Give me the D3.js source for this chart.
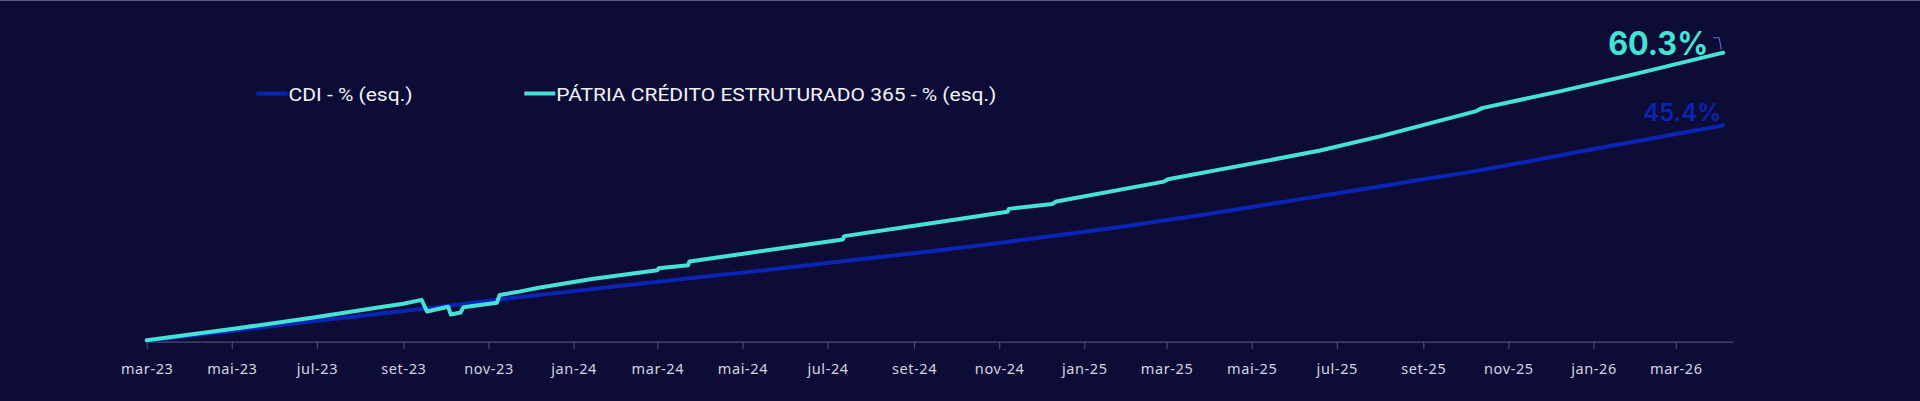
<!DOCTYPE html>
<html>
<head>
<meta charset="utf-8">
<script src="https://cdn.jsdelivr.net/npm/d3@7"></script>
<style>
  body { margin: 0; background: #0d0c36; }
  svg { display: block; }
</style>
</head>
<body>
<div id="chart"></div>
<script>
const layout = {
    width: 1920,
    height: 401,
    xStart: 146.7,
    xEnd: 1733,
    axisY: 341.7,
    yZero: 346.1,
    yTop: 44.4
};

// CDI acumulado (%)
const cdiDates = ["2023-03-01", "2023-04-01", "2023-05-01", "2023-06-01", "2023-07-01", "2023-08-01",
    "2023-09-01", "2023-10-01", "2023-11-01", "2023-12-01", "2024-01-01", "2024-02-01", "2024-03-01",
    "2024-04-01", "2024-05-01", "2024-06-01", "2024-07-01", "2024-08-01", "2024-09-01", "2024-10-01",
    "2024-11-01", "2024-12-01", "2025-01-01", "2025-02-01", "2025-03-01", "2025-04-01", "2025-05-01",
    "2025-06-01", "2025-07-01", "2025-08-01", "2025-09-01", "2025-10-01", "2025-11-01", "2025-12-01",
    "2026-01-01", "2026-02-01", "2026-03-01", "2026-04-01", "2026-04-04"];
const cdiValues = [1.1, 2.1, 3.1, 4.2, 5.2, 6.2,
    7.2, 8.2, 9.3, 10.3, 11.3, 12.3, 13.2,
    14.2, 15.1, 16.1, 17.1, 18.1, 19.1, 20.1,
    21.2, 22.3, 23.5, 24.7, 25.9, 27.2, 28.6,
    30.0, 31.4, 32.8, 34.3, 35.6, 37.2, 38.8,
    40.5, 42.1, 43.6, 45.2, 45.4];

// Pátria Crédito Estruturado 365 acumulado (%)
const fundDates = ["2023-03-01", "2023-05-01", "2023-07-01", "2023-08-15", "2023-09-01", "2023-09-14",
    "2023-09-18", "2023-10-03", "2023-10-05", "2023-10-12", "2023-10-14", "2023-11-07", "2023-11-09",
    "2023-11-23", "2023-12-07", "2024-01-14", "2024-03-01", "2024-03-02", "2024-03-23", "2024-03-24",
    "2024-07-12", "2024-07-13", "2024-09-12", "2024-11-07", "2024-11-08", "2024-12-09", "2024-12-12",
    "2025-02-27", "2025-03-02", "2025-05-01", "2025-06-19", "2025-08-01", "2025-10-09", "2025-10-13",
    "2025-12-07", "2026-02-01", "2026-04-04"];
const fundValues = [1.2, 3.5, 6.0, 8.0, 8.7, 9.5,
    7.1, 8.1, 6.5, 6.9, 8.0, 8.9, 10.5,
    11.2, 12.0, 13.8, 15.6, 16.0, 16.6, 17.4,
    21.9, 22.6, 25.2, 27.6, 28.2, 29.2, 29.7,
    33.8, 34.3, 37.5, 40.2, 43.1, 48.3, 48.9,
    52.3, 56.0, 60.3];

const monthNames = ["jan", "fev", "mar", "abr", "mai", "jun", "jul", "ago", "set", "out", "nov", "dez"];
const seriesNames = ["CDI - % (esq.)", "PÁTRIA CRÉDITO ESTRUTURADO 365 - % (esq.)"];
const endLabels = ["45.4%", "60.3%"];

const parseDate = d3.timeParse("%Y-%m-%d");
const cdi = cdiDates.map((d, i) => ({ date: parseDate(d), value: cdiValues[i] }));
const fund = fundDates.map((d, i) => ({ date: parseDate(d), value: fundValues[i] }));

let svg = d3.select("#chart").append("svg")
    .attr("width", layout.width)
    .attr("height", layout.height)
    .attr("viewBox", [0, 0, layout.width, layout.height].join(" "));

// thin border on top
svg.append("rect")
    .attr("x", 0).attr("y", 0)
    .attr("width", layout.width).attr("height", 1)
    .attr("fill", "#5a5a7a");

// SCALES
let xScale = d3.scaleTime()
    .domain([parseDate("2023-03-01"), parseDate("2026-04-11")])
    .range([layout.xStart, layout.xEnd]);
let yScale = d3.scaleLinear()
    .domain([0, 62])
    .range([layout.yZero, layout.yTop]);

// x axis
let xAxis = svg.append("g")
    .attr("transform", `translate(0,${layout.axisY})`)
    .call(d3.axisBottom(xScale)
        .ticks(d3.timeMonth.every(2))
        .tickFormat(d => monthNames[d.getMonth()] + "-" + d3.timeFormat("%y")(d))
        .tickSize(7)
        .tickSizeOuter(0)
        .tickPadding(15));
xAxis.selectAll(".domain, line").attr("stroke", "#4c4c6e").attr("stroke-width", 1.2);
xAxis.selectAll("text")
    .attr("fill", "#d4d4e0")
    .attr("font-family", "'Noto Sans', sans-serif")
    .attr("font-size", 14.5)
    .attr("letter-spacing", 0.6);

// lines
let line = d3.line()
    .x(d => xScale(d.date))
    .y(d => yScale(d.value));

svg.append("path")
    .datum(cdi)
    .attr("fill", "none")
    .attr("stroke", "#0a24b6")
    .attr("stroke-width", 4)
    .attr("stroke-linecap", "round")
    .attr("stroke-linejoin", "round")
    .attr("d", line);

svg.append("path")
    .datum(fund)
    .attr("fill", "none")
    .attr("stroke", "#45e3d6")
    .attr("stroke-width", 4)
    .attr("stroke-linecap", "round")
    .attr("stroke-linejoin", "round")
    .attr("d", line);

// end labels
let lastCdi = cdi[cdi.length - 1];
let lastFund = fund[fund.length - 1];

svg.append("text")
    .attr("x", xScale(lastCdi.date) - 2)
    .attr("y", yScale(lastCdi.value) - 4.5)
    .attr("text-anchor", "end")
    .attr("font-family", "Inter, sans-serif")
    .attr("font-weight", 600)
    .attr("font-size", 24)
    .attr("fill", "#0a24b6")
    .attr("textLength", 78)
    .attr("lengthAdjust", "spacingAndGlyphs")
    .text(endLabels[0]);

svg.append("text")
    .attr("x", xScale(lastFund.date) - 15)
    .attr("y", yScale(lastFund.value) + 2.3)
    .attr("text-anchor", "end")
    .attr("font-family", "Inter, sans-serif")
    .attr("font-weight", 700)
    .attr("font-size", 32)
    .attr("fill", "#45e3d6")
    .attr("textLength", 100)
    .attr("lengthAdjust", "spacingAndGlyphs")
    .text(endLabels[1]);

// little bracket mark next to the fund label
let bx = xScale(lastFund.date), by = yScale(lastFund.value);
svg.append("path")
    .attr("d", `M${bx - 10},${by - 15} H${bx - 4} L${bx - 2},${by - 3}`)
    .attr("fill", "none")
    .attr("stroke", "#5a78d8")
    .attr("stroke-width", 1);

// legend
const legendItems = [
    { name: seriesNames[0], color: "#0a24b6", x: 256.5, width: 124 },
    { name: seriesNames[1], color: "#45e3d6", x: 524.3, width: 440 }
];
let legend = svg.append("g").attr("transform", "translate(0,93.5)");
legendItems.forEach(item => {
    legend.append("line")
        .attr("x1", item.x).attr("x2", item.x + 31)
        .attr("y1", 0).attr("y2", 0)
        .attr("stroke", item.color)
        .attr("stroke-width", 4);
    legend.append("text")
        .attr("x", item.x + 32)
        .attr("y", 7)
        .attr("font-family", "'Liberation Sans Narrow', 'Roboto', sans-serif")
        .attr("font-size", 19)
        .attr("fill", "#f2f2f6")
        .attr("textLength", item.width)
        .attr("lengthAdjust", "spacingAndGlyphs")
        .text(item.name);
});
</script>
</body>
</html>
